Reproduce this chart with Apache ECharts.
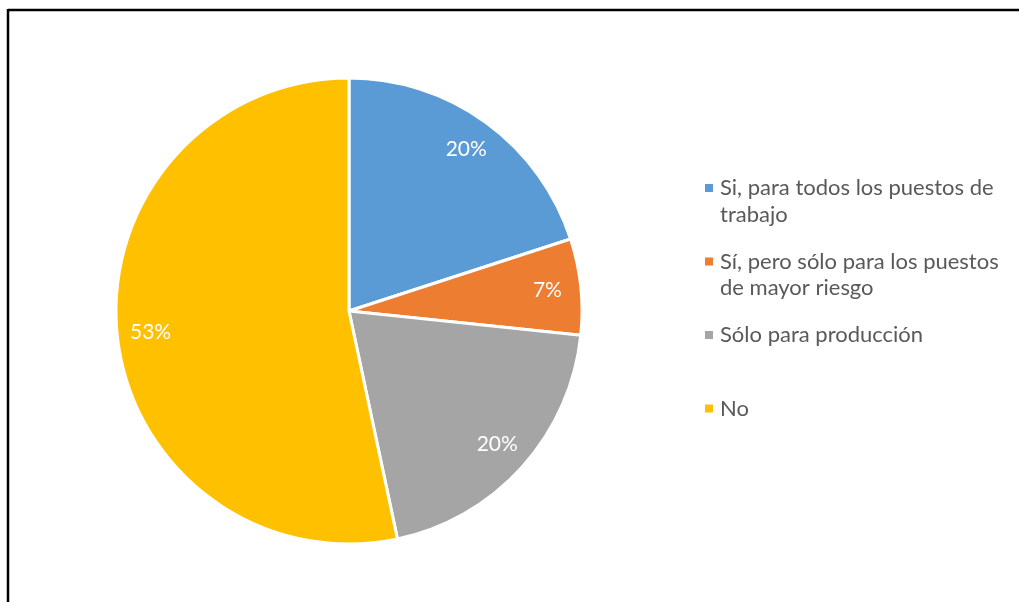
<!DOCTYPE html>
<html>
<head>
<meta charset="utf-8">
<script src="https://cdn.jsdelivr.net/npm/echarts@6/dist/echarts.min.js"></script>
<style>
  html, body { margin: 0; padding: 0; background: #fff; }
  #chart { width: 1019px; height: 602px; }
</style>
</head>
<body>
<div id="chart"></div>
<script>
// Survey answers (respondent counts) and their colours
const categories = [
  'Si, para todos los puestos de trabajo',
  'Sí, pero sólo para los puestos de mayor riesgo',
  'Sólo para producción',
  'No'
];
const counts = [3, 1, 3, 8];
const colors = ['#5B9BD5', '#ED7D31', '#A5A5A5', '#FFC000'];
// Legend text split into the lines shown beside the pie
const legendLines = [
  ['Si, para todos los puestos de', 'trabajo'],
  ['Sí, pero sólo para los puestos', 'de mayor riesgo'],
  ['Sólo para producción', ' '],
  ['No']
];

const FONT = 'Lato, "Open Sans", sans-serif';
const chart = echarts.init(document.getElementById('chart'), null, { renderer: 'canvas' });

const pieData = categories.map((name, i) => ({
  name: name,
  value: counts[i],
  itemStyle: { color: colors[i] }
}));

const rich = {
  s: { width: 7 },
  p: { width: 15 },
  t: { fontSize: 22, color: '#595959', lineHeight: 26.5, fontFamily: FONT }
};
colors.forEach((c, i) => {
  rich['m' + i] = { width: 8, height: 8, backgroundColor: c };
});

chart.setOption({
  animation: false,
  backgroundColor: '#ffffff',
  graphic: [
    { type: 'line', shape: { x1: 8, y1: 10, x2: 1019, y2: 10 }, style: { stroke: '#000', lineWidth: 2.5 }, silent: true },
    { type: 'line', shape: { x1: 8, y1: 9, x2: 8, y2: 602 }, style: { stroke: '#000', lineWidth: 2.5 }, silent: true }
  ],
  legend: {
    orient: 'vertical',
    left: 700,
    top: 177,
    padding: 0,
    itemGap: 25,
    itemWidth: 0,
    itemHeight: 0,
    icon: 'none',
    selectedMode: false,
    data: categories,
    formatter: function (name) {
      const i = categories.indexOf(name);
      const lines = legendLines[i];
      return lines.map((ln, k) =>
        (k === 0 ? '{m' + i + '|}{s|}' : '{p|}') + '{t|' + ln + '}'
      ).join('\n');
    },
    textStyle: { rich: rich }
  },
  series: [
    {
      type: 'pie',
      center: [349, 311],
      radius: [0, 233],
      startAngle: 90,
      clockwise: true,
      label: { show: false },
      labelLine: { show: false },
      emphasis: { disabled: true },
      itemStyle: { borderColor: '#ffffff', borderWidth: 3 },
      data: pieData
    },
    {
      // Percentage labels, placed toward the rim of each slice
      type: 'pie',
      center: [349, 311],
      radius: [160, 233],
      startAngle: 90,
      clockwise: true,
      silent: true,
      percentPrecision: 0,
      emphasis: { disabled: true },
      itemStyle: { color: 'transparent', borderWidth: 0 },
      labelLine: { show: false },
      label: {
        show: true,
        position: 'inside',
        formatter: '{d}%',
        color: '#ffffff',
        fontSize: 21,
        fontFamily: FONT
      },
      data: categories.map((name, i) => ({ name: name, value: counts[i] }))
    }
  ]
});
</script>
</body>
</html>
